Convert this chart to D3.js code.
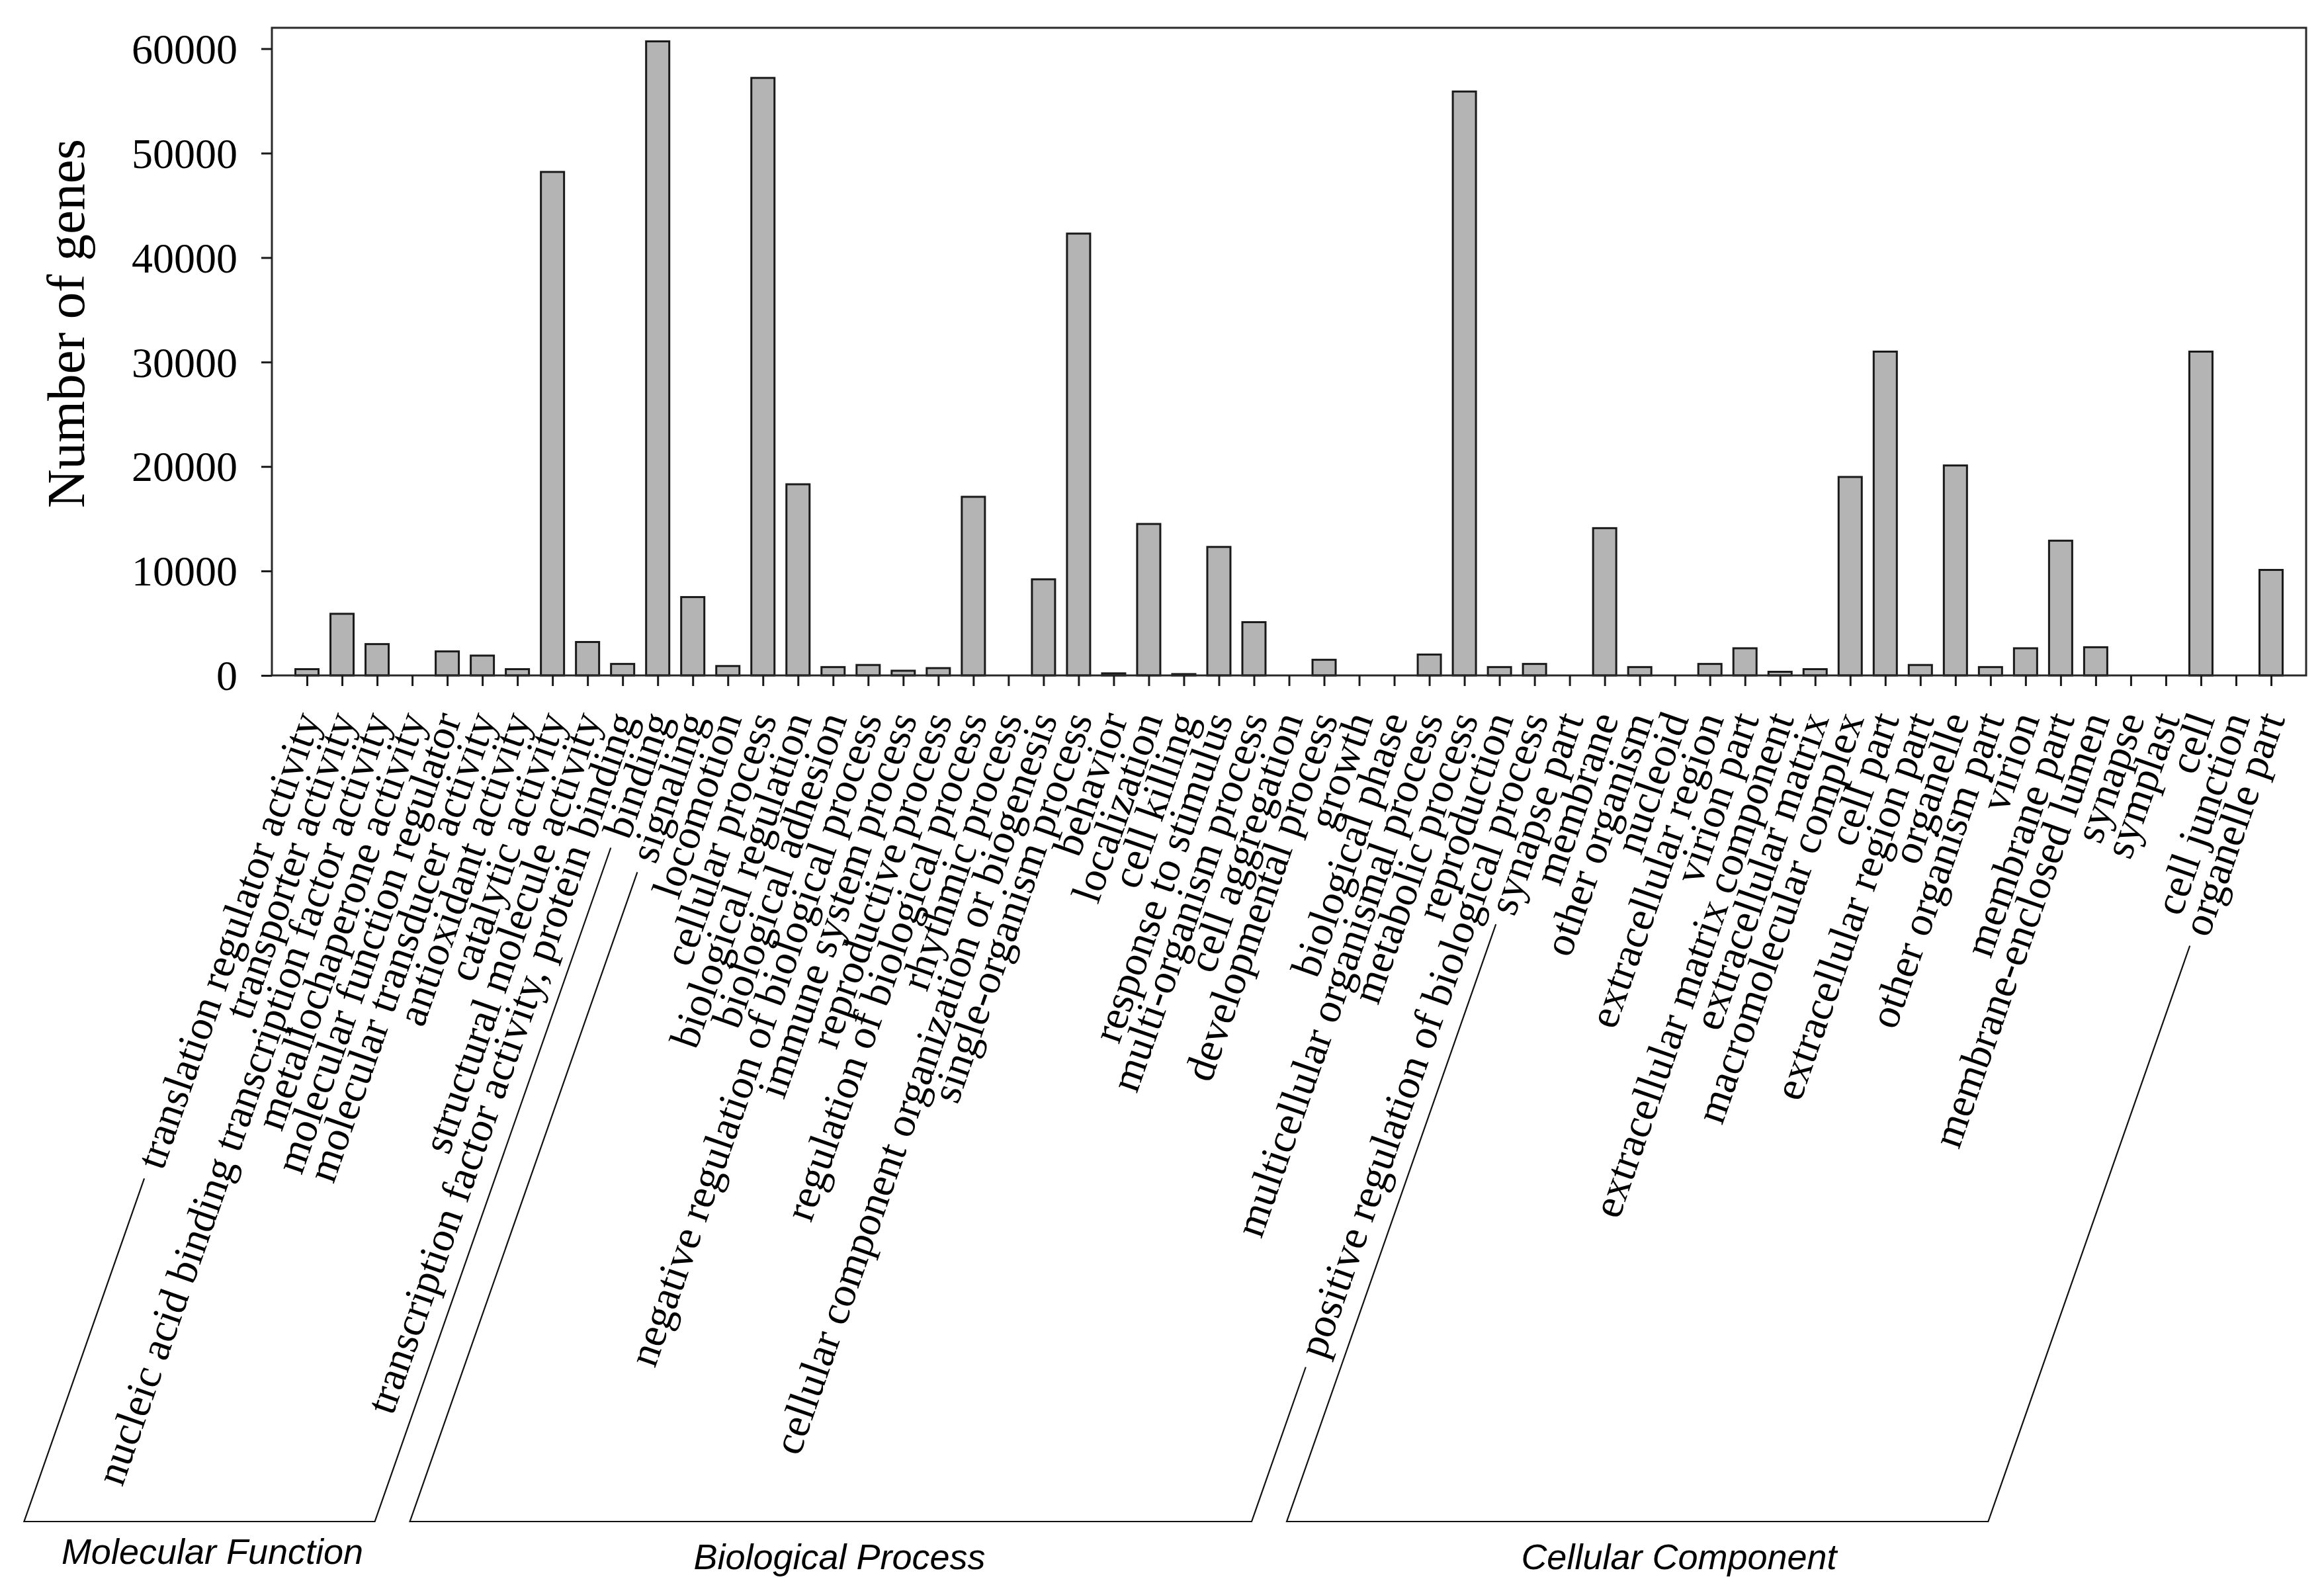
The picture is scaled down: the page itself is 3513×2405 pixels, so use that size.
<!DOCTYPE html>
<html>
<head>
<meta charset="utf-8">
<script src="https://cdn.jsdelivr.net/npm/d3@7"></script>
<style>
  body { margin: 0; background: #fff; }
  svg { display: block; }
</style>
</head>
<body>
<div id="chart"></div>
<script>
// GO term categories, in the order they appear on the x axis
const categories = [
  "translation regulator activity", "transporter activity",
  "nucleic acid binding transcription factor activity", "metallochaperone activity",
  "molecular function regulator", "molecular transducer activity", "antioxidant activity",
  "catalytic activity", "structural molecule activity",
  "transcription factor activity, protein binding", "binding",
  "signaling", "locomotion", "cellular process", "biological regulation",
  "biological adhesion", "negative regulation of biological process",
  "immune system process", "reproductive process", "regulation of biological process",
  "rhythmic process", "cellular component organization or biogenesis",
  "single-organism process", "behavior", "localization", "cell killing",
  "response to stimulus", "multi-organism process", "cell aggregation",
  "developmental process", "growth", "biological phase",
  "multicellular organismal process", "metabolic process", "reproduction",
  "positive regulation of biological process",
  "synapse part", "membrane", "other organism", "nucleoid", "extracellular region",
  "virion part", "extracellular matrix component", "extracellular matrix",
  "macromolecular complex", "cell part", "extracellular region part", "organelle",
  "other organism part", "virion", "membrane part", "membrane-enclosed lumen",
  "synapse", "symplast", "cell", "cell junction", "organelle part"
];

const geneCounts = [
  600, 5900, 3000, 0, 2300, 1900, 600, 48200, 3200, 1100, 60700,
  7500, 900, 57200, 18300, 800, 1000, 450, 700, 17100, 0, 9200, 42300, 200,
  14500, 130, 12300, 5100, 0, 1500, 0, 0, 2000, 55900, 800, 1100,
  0, 14100, 800, 0, 1100, 2600, 350, 600, 19000, 31000, 1000, 20100, 800,
  2600, 12900, 2700, 0, 0, 31000, 0, 10100
];

const groupNames = ["Molecular Function", "Biological Process", "Cellular Component"];
const groupSizes = [11, 25, 21];

const yTicks = [0, 10000, 20000, 30000, 40000, 50000, 60000];

// layout
const W = 3513, H = 2405;
const plot = { left: 411, right: 3486, top: 42, bottom: 1021 };
const angle = 70.7;                 // label rotation (degrees)
const labelDrop = 58;               // label anchor below axis
const bracketY = 2300;
const bracketGap = 19;
const groupLabelX = [321, 1269, 2538];
const groupLabelY = [2364, 2372, 2372];

const serif = "'Liberation Serif', 'Times New Roman', serif";
const sans = "'Liberation Sans', Arial, sans-serif";

const svg = d3.select("#chart").append("svg")
  .attr("width", W).attr("height", H);

const x = d3.scaleLinear()
  .domain([0, categories.length + 1])
  .range([plot.left, plot.right]);

const y = d3.scaleLinear()
  .domain([0, 62000])
  .range([plot.bottom, plot.top]);

// bars
const barW = 35;
svg.append("g").selectAll("rect")
  .data(geneCounts)
  .enter().append("rect")
  .attr("x", (d, i) => x(i + 1) - barW / 2)
  .attr("y", d => y(d))
  .attr("width", barW)
  .attr("height", d => y(0) - y(d))
  .attr("fill", "#b4b4b4")
  .attr("stroke", "#1a1a1a")
  .attr("stroke-width", 3);

// frame
svg.append("rect")
  .attr("x", plot.left).attr("y", plot.top)
  .attr("width", plot.right - plot.left)
  .attr("height", plot.bottom - plot.top)
  .attr("fill", "none")
  .attr("stroke", "#2a2a2a")
  .attr("stroke-width", 3);

// y axis
const yAxis = svg.append("g")
  .attr("transform", `translate(${plot.left},0)`)
  .call(d3.axisLeft(y).tickValues(yTicks).tickSize(16).tickPadding(36).tickFormat(d3.format("d")));
yAxis.select(".domain").remove();
yAxis.selectAll("line").attr("stroke", "#1a1a1a").attr("stroke-width", 3);
yAxis.selectAll("text")
  .attr("dy", "0.34em")
  .style("font-family", serif)
  .style("font-size", "64px")
  .attr("fill", "#000");

// x axis
const xAxis = svg.append("g")
  .attr("transform", `translate(0,${plot.bottom})`)
  .call(d3.axisBottom(x)
    .tickValues(d3.range(1, categories.length + 1))
    .tickSize(16)
    .tickFormat(d => categories[d - 1]));
xAxis.select(".domain").remove();
xAxis.selectAll("line").attr("stroke", "#1a1a1a").attr("stroke-width", 3);
const xLabels = xAxis.selectAll("text")
  .attr("x", 0).attr("y", 0)
  .attr("dy", "0.35em")
  .attr("transform", `translate(0,${labelDrop}) rotate(${-angle})`)
  .style("text-anchor", "end")
  .style("font-family", serif)
  .style("font-size", "64px")
  .attr("fill", "#000");

// y axis title
svg.append("text")
  .attr("transform", `translate(127,489) rotate(-90)`)
  .attr("text-anchor", "middle")
  .style("font-family", serif)
  .style("font-size", "81px")
  .text("Number of genes");

// group brackets, following the slant of the labels
const lengths = xLabels.nodes().map(n => n.getComputedTextLength());
const rad = angle * Math.PI / 180;
const ux = Math.cos(rad), uy = -Math.sin(rad);
const anchorY = plot.bottom + labelDrop;

function topPoint(i) {
  const t = lengths[i] + bracketGap;
  return [x(i + 1) - t * ux, anchorY - t * uy];
}
function bottomPoint(i) {
  const t = (bracketY - anchorY) / -uy;
  return [x(i + 1) - t * ux, bracketY];
}

let start = 0;
const brackets = groupSizes.map((n, g) => {
  const first = start, last = start + n - 1;
  start += n;
  return { name: groupNames[g], g, first, last };
});

svg.append("g").selectAll("path")
  .data(brackets)
  .enter().append("path")
  .attr("d", b => d3.line()([topPoint(b.first), bottomPoint(b.first), bottomPoint(b.last), topPoint(b.last)]))
  .attr("fill", "none")
  .attr("stroke", "#111")
  .attr("stroke-width", 2.2);

svg.append("g").selectAll("text")
  .data(brackets)
  .enter().append("text")
  .attr("x", b => groupLabelX[b.g])
  .attr("y", b => groupLabelY[b.g])
  .attr("text-anchor", "middle")
  .style("font-family", sans)
  .style("font-style", "italic")
  .style("font-size", "54px")
  .text(b => b.name);
</script>
</body>
</html>
